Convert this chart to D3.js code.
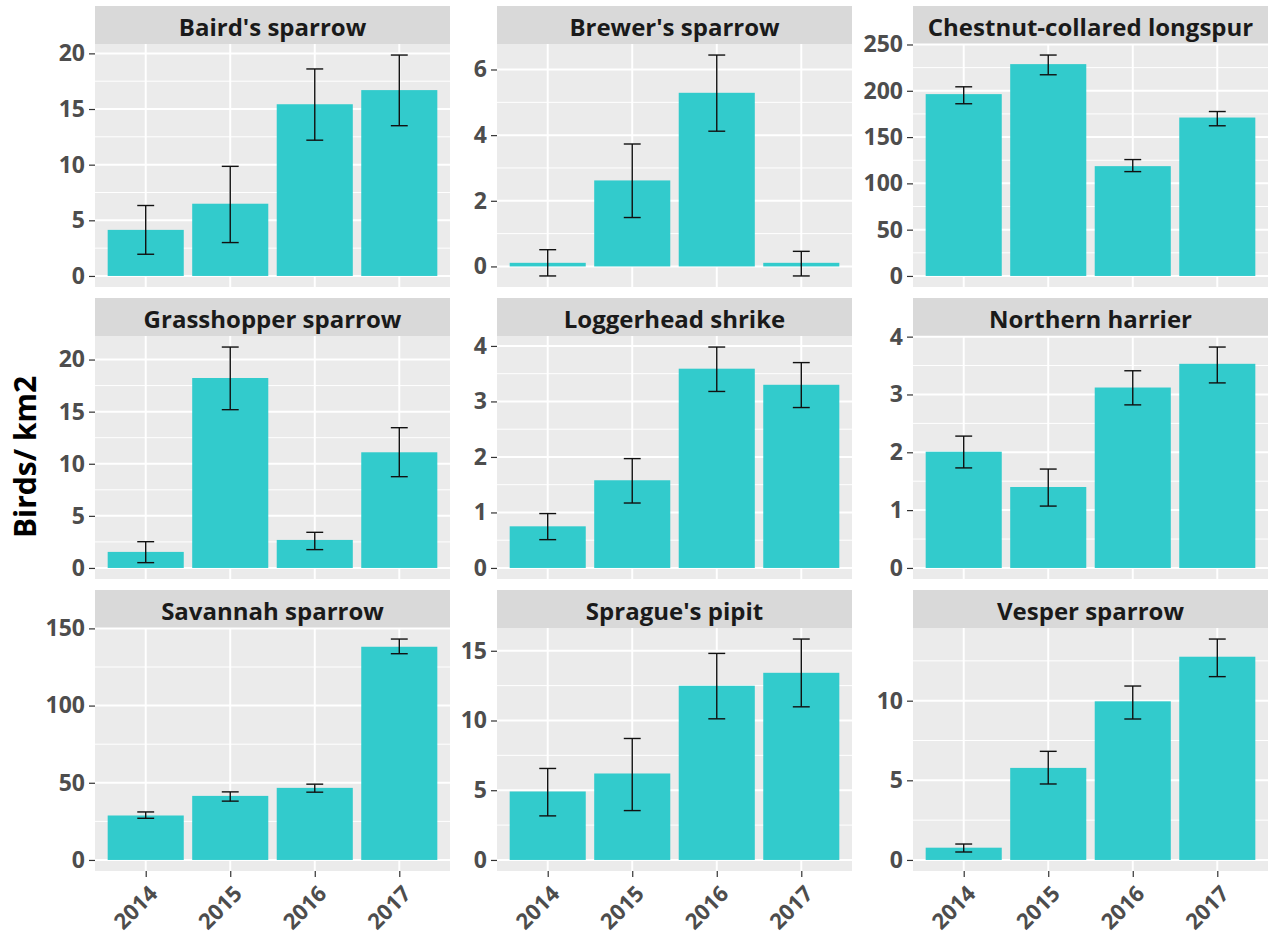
<!DOCTYPE html>
<html>
<head>
<meta charset="utf-8">
<script src="https://cdn.jsdelivr.net/npm/d3@7"></script>
<style>
  body { margin: 0; background: #ffffff; }
  text { font-family: "Open Sans", sans-serif; }
</style>
</head>
<body>
<svg id="chart" width="1268" height="938"></svg>
<script>
// Survey years (x categories) and species (one facet each)
const years = ["2014", "2015", "2016", "2017"];
const species = [
  "Baird's sparrow", "Brewer's sparrow", "Chestnut-collared longspur",
  "Grasshopper sparrow", "Loggerhead shrike", "Northern harrier",
  "Savannah sparrow", "Sprague's pipit", "Vesper sparrow"
];

// Mean density (birds / km2), one row per species, one value per year
const meanDensity = [
  [4.14, 6.49, 15.43, 16.7],
  [0.11, 2.62, 5.29, 0.11],
  [196.4, 228.8, 118.6, 171.1],
  [1.54, 18.23, 2.69, 11.1],
  [0.75, 1.58, 3.59, 3.30],
  [2.01, 1.40, 3.12, 3.53],
  [28.8, 41.5, 46.7, 138.1],
  [4.91, 6.20, 12.49, 13.42],
  [0.77, 5.78, 9.96, 12.76]
];

// Lower and upper error-bar limits
const lowerLimit = [
  [1.95, 3.0, 12.2, 13.5],
  [-0.29, 1.49, 4.12, -0.29],
  [186.0, 217.3, 112.7, 162.2],
  [0.51, 15.19, 1.76, 8.76],
  [0.51, 1.17, 3.18, 2.89],
  [1.73, 1.07, 2.82, 3.20],
  [27.0, 38.1, 43.9, 133.6],
  [3.16, 3.54, 10.12, 10.98],
  [0.50, 4.77, 8.85, 11.51]
];
const upperLimit = [
  [6.33, 9.85, 18.6, 19.85],
  [0.51, 3.73, 6.44, 0.46],
  [204.3, 238.6, 125.7, 177.6],
  [2.52, 21.2, 3.42, 13.46],
  [0.98, 1.97, 3.98, 3.70],
  [2.28, 1.71, 3.41, 3.82],
  [31.1, 44.1, 49.1, 143.1],
  [6.56, 8.71, 14.81, 15.84],
  [1.00, 6.82, 10.92, 13.87]
];

// Y-axis tick labels for each facet (free scales)
const yTickValues = [
  [0, 5, 10, 15, 20],
  [0, 2, 4, 6],
  [0, 50, 100, 150, 200, 250],
  [0, 5, 10, 15, 20],
  [0, 1, 2, 3, 4],
  [0, 1, 2, 3, 4],
  [0, 50, 100, 150],
  [0, 5, 10, 15],
  [0, 5, 10]
];

// Facet grid geometry
const colX = [95, 497, 913];
const rowY = [6, 298, 590];
const panelW = 355;
const stripH = 38;
const panelH = 243;

const svg = d3.select("#chart");

species.forEach((name, i) => {
  const col = i % 3, row = Math.floor(i / 3);
  const g = svg.append("g").attr("transform", `translate(${colX[col]},${rowY[row]})`);

  // strip
  g.append("rect").attr("width", panelW).attr("height", stripH).attr("fill", "#D9D9D9");
  g.append("text")
    .attr("x", panelW / 2).attr("y", 30)
    .attr("text-anchor", "middle")
    .attr("font-size", 24).attr("font-weight", 700)
    .attr("fill", "#1A1A1A")
    .text(name);

  const p = g.append("g").attr("transform", `translate(0,${stripH})`);
  p.append("rect").attr("width", panelW).attr("height", panelH).attr("fill", "#EBEBEB");

  const rows = years.map((yr, k) => ({
    year: yr, mean: meanDensity[i][k], lo: lowerLimit[i][k], hi: upperLimit[i][k]
  }));

  const x = d3.scalePoint().domain(years).range([0, panelW]).padding(0.6);
  const step = x.step();

  const lo = Math.min(0, d3.min(rows, d => d.lo));
  const hi = d3.max(rows, d => Math.max(d.hi, d.mean));
  const pad = (hi - lo) * 0.05;
  const y = d3.scaleLinear().domain([lo - pad, hi + pad]).range([panelH, 0]);
  const [d0, d1] = y.domain();

  const ticks = yTickValues[i];
  const tStep = ticks[1] - ticks[0];
  const minors = ticks.map(v => v - tStep / 2)
    .concat([ticks[ticks.length - 1] + tStep / 2])
    .filter(v => v > d0 && v < d1);

  // grid
  p.selectAll(".minor").data(minors).join("line")
    .attr("x1", 0).attr("x2", panelW)
    .attr("y1", d => y(d)).attr("y2", d => y(d))
    .attr("stroke", "#ffffff").attr("stroke-width", 1);
  p.selectAll(".major").data(ticks).join("line")
    .attr("x1", 0).attr("x2", panelW)
    .attr("y1", d => y(d)).attr("y2", d => y(d))
    .attr("stroke", "#ffffff").attr("stroke-width", 2);
  p.selectAll(".vmajor").data(years).join("line")
    .attr("x1", d => x(d)).attr("x2", d => x(d))
    .attr("y1", 0).attr("y2", panelH)
    .attr("stroke", "#ffffff").attr("stroke-width", 2);

  // bars
  const barW = step * 0.9;
  p.selectAll(".bar").data(rows).join("rect")
    .attr("x", d => x(d.year) - barW / 2)
    .attr("width", barW)
    .attr("y", d => Math.min(y(d.mean), y(0)))
    .attr("height", d => Math.abs(y(0) - y(d.mean)))
    .attr("fill", "#32CBCC");

  // error bars
  const capW = step * 0.2;
  const eb = p.selectAll(".err").data(rows).join("g").attr("stroke", "#111111").attr("stroke-width", 1.4);
  eb.append("line")
    .attr("x1", d => x(d.year)).attr("x2", d => x(d.year))
    .attr("y1", d => y(d.lo)).attr("y2", d => y(d.hi));
  eb.append("line")
    .attr("x1", d => x(d.year) - capW / 2).attr("x2", d => x(d.year) + capW / 2)
    .attr("y1", d => y(d.hi)).attr("y2", d => y(d.hi));
  eb.append("line")
    .attr("x1", d => x(d.year) - capW / 2).attr("x2", d => x(d.year) + capW / 2)
    .attr("y1", d => y(d.lo)).attr("y2", d => y(d.lo));

  // y axis
  const ya = p.append("g")
    .call(d3.axisLeft(y).tickValues(ticks).tickSize(6).tickPadding(4).tickFormat(d3.format("d")));
  ya.select(".domain").remove();
  ya.selectAll(".tick line").attr("stroke", "#333333").attr("stroke-width", 1.2);
  ya.selectAll(".tick text")
    .attr("font-family", "Open Sans, sans-serif")
    .attr("font-size", 23).attr("font-weight", 700)
    .attr("fill", "#4D4D4D");

  // x axis only under the bottom row
  if (row === 2) {
    const xa = p.append("g").attr("transform", `translate(0,${panelH})`)
      .call(d3.axisBottom(x).tickSize(6).tickFormat(""));
    xa.select(".domain").remove();
    xa.selectAll(".tick line").attr("stroke", "#333333").attr("stroke-width", 1.2);
    p.selectAll(".xlab").data(years).join("text")
      .attr("transform", d => `translate(${x(d) + 2},${panelH + 13}) rotate(-45)`)
      .attr("text-anchor", "end")
      .attr("dy", "0.72em")
      .attr("font-size", 22).attr("font-weight", 700)
      .attr("fill", "#4D4D4D")
      .text(d => d);
  }
});

// shared y-axis title
svg.append("text")
  .attr("transform", "translate(36,457) rotate(-90)")
  .attr("text-anchor", "middle")
  .attr("font-size", 30).attr("font-weight", 700)
  .attr("fill", "#000000")
  .text("Birds/ km2");
</script>
</body>
</html>
